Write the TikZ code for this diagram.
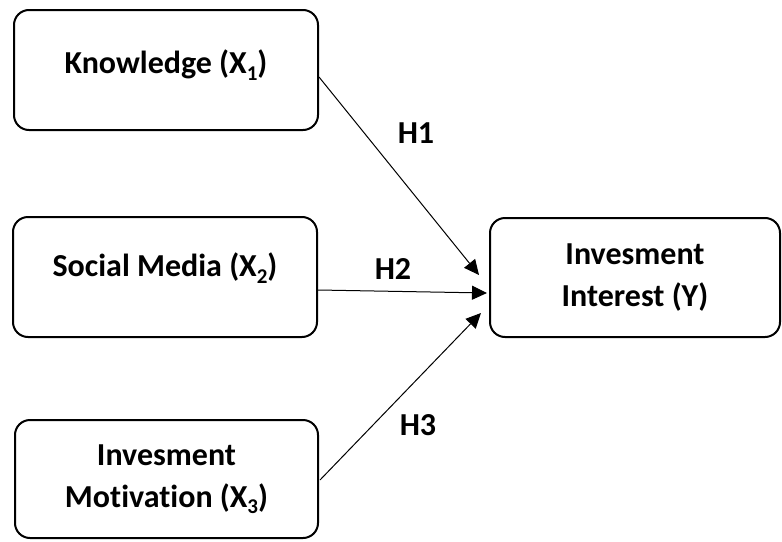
\documentclass[tikz,border=0pt]{standalone}
\usepackage{fontspec}
\setmainfont[Ligatures={NoCommon}]{Carlito}
\usetikzlibrary{arrows.meta,calc}
\newcommand{\mysub}[1]{\raisebox{-0.2em}{\fontsize{21pt}{21pt}\selectfont #1}}
\begin{document}
\begin{tikzpicture}[x=1pt,y=-1pt,
  box/.style={draw, line width=2pt, rounded corners=15pt, inner sep=0pt},
  lbl/.style={font=\bfseries\fontsize{32pt}{42pt}\selectfont, align=center, inner sep=0pt},
  arr/.style={line width=1pt, -{Triangle[length=15pt,width=14pt]}}]
\useasboundingbox (0,0) rectangle (782,541);
% boxes
\node[box, minimum width=304pt, minimum height=120pt] (k) at (166,70) {};
\node[box, minimum width=304pt, minimum height=120pt] (s) at (165,277) {};
\node[box, minimum width=303pt, minimum height=118pt] (m) at (166.5,479) {};
\node[box, minimum width=290pt, minimum height=119pt] (y) at (635,277.5) {};
% texts
\node[lbl] (kt) at (166,65) {Knowledge (X\mysub{1})};
\node[lbl] (st) at (165,268) {Social Media (X\mysub{2})};
\node[lbl] (mt) at (166.5,479) {Invesment\\Motivation (X\mysub{3})};
\node[lbl] (yt) at (635,277.5) {Invesment\\Interest (Y)};
% connectors
\draw[arr] ([yshift=-7pt]k.east) -- ([xshift=-10pt,yshift=2.5pt]y.west);
\draw[arr] ([yshift=-13pt]s.east) -- ([xshift=-2pt,yshift=-15.5pt]y.west);
\draw[arr] ([xshift=1pt,yshift=-1pt]m.east) -- ([xshift=-8pt,yshift=-35.5pt]y.west);
% hypothesis labels
\node[lbl] (h1) at (416,133) {H1};
\node[lbl] (h2) at (393,269) {H2};
\node[lbl] (h3) at (418,425) {H3};
\end{tikzpicture}
\end{document}
